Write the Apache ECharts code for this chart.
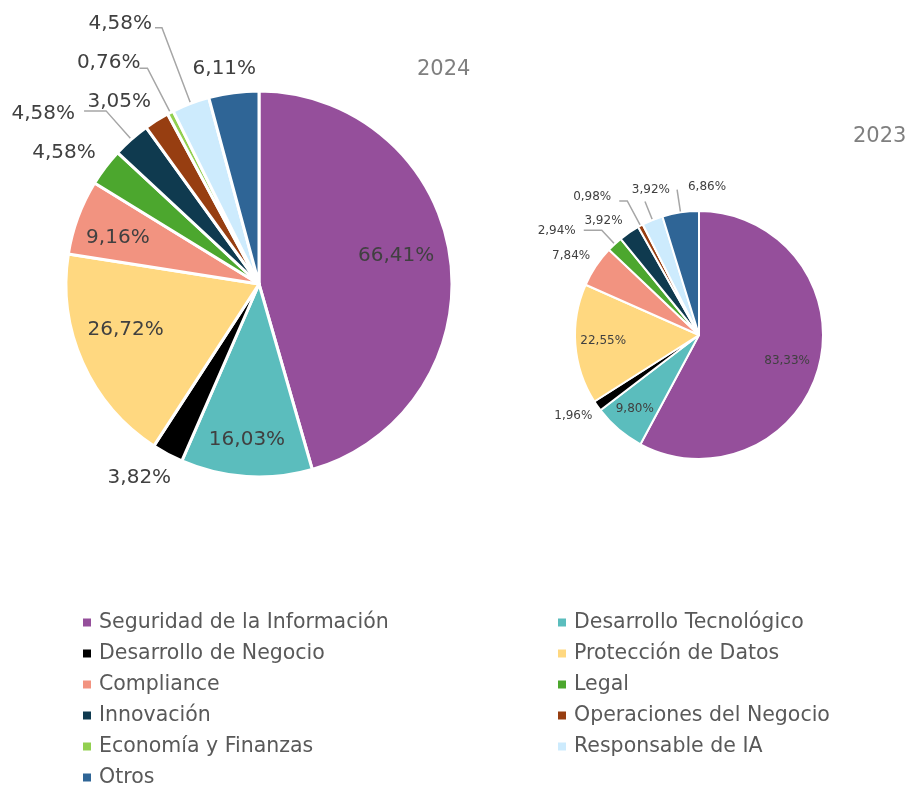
<!DOCTYPE html>
<html>
<head>
<meta charset="utf-8">
<script src="https://cdn.jsdelivr.net/npm/echarts@6/dist/echarts.min.js"></script>
<style>
  html, body { margin: 0; padding: 0; background: #fff; }
  #pieChart { width: 909px; height: 785px; }
</style>
</head>
<body>
<div id="pieChart"></div>
<script>
// categories and values (the labels show the values themselves)
const categories = ['Seguridad de la Información', 'Desarrollo Tecnológico', 'Desarrollo de Negocio',
  'Protección de Datos', 'Compliance', 'Legal', 'Innovación', 'Operaciones del Negocio',
  'Economía y Finanzas', 'Responsable de IA', 'Otros'];
const values2024 = [66.41, 16.03, 3.82, 26.72, 9.16, 4.58, 4.58, 3.05, 0.76, 4.58, 6.11];
const values2023 = [83.33, 9.80, 1.96, 22.55, 7.84, 2.94, 3.92, 0.98, 0, 3.92, 6.86];
const years = ['2024', '2023'];

const colors = ['#954F9B', '#5BBDBD', '#000000', '#FFD880', '#F29380', '#4CA72E',
  '#0F3A4F', '#973E11', '#92D050', '#CDEBFD', '#2F6596'];
const textColor = '#404040';
const legendColor = '#595959';
const lineColor = '#A6A6A6';
const fontFamily = '"DejaVu Sans", sans-serif';

// label placement, per slice index
// inside: {index: [dx, dy]}
// outside: {index: [show line, length, length2, dx, dy]}
const inside2024 = {0: [-14, -7], 1: [-2, 4], 3: [6, -16], 4: [2, 7]};
const outside2024 = {2: [false, 20, 0, 18, 6], 5: [false, 12, 0, 5, -7], 6: [true, 38, 22, -4, 3],
  7: [false, 22, 0, 11, 0], 8: [true, 50, 8, 6, -5], 9: [true, 81, 7, 2, -4], 10: [false, 12, 0, 29, -12]};
const inside2023 = {0: [-8, 2], 1: [0, -2], 3: [3, -2]};
const outside2023 = {2: [false, 6, 0, 5, 7], 4: [false, 8, 0, 6, -6], 5: [true, 19, 18, -3, 1],
  6: [false, 10, 0, 4, -3], 7: [true, 28, 8, -3, -4], 9: [true, 20, 0, 30, -12], 10: [true, 23, 0, 54, -3]};

function fmt(v) {
  return v.toFixed(2).replace('.', ',') + '%';
}

function nudge(table, idx) {
  return function (p) {
    const t = table[p.dataIndex];
    if (!t) return { hideOverlap: false };
    return { dx: t[idx], dy: t[idx + 1], hideOverlap: false, moveOverlap: null };
  };
}

function buildPies(values, center, radius, fontSize, border, inside, outside) {
  // slices with outside labels
  const main = {
    type: 'pie',
    center: center,
    radius: [0, radius],
    startAngle: 90,
    clockwise: true,
    avoidLabelOverlap: false,
    itemStyle: { borderColor: '#fff', borderWidth: border },
    label: {
      show: true, position: 'outside', color: textColor, fontSize: fontSize, fontFamily: fontFamily,
      formatter: p => fmt(p.value)
    },
    labelLine: { show: true, smooth: false, lineStyle: { color: lineColor, width: 1.5 } },
    labelLayout: nudge(outside, 3),
    emphasis: { disabled: true },
    data: categories.map((c, i) => {
      const o = outside[i];
      const item = { name: c, value: values[i], itemStyle: { color: colors[i] } };
      if (!o || values[i] === 0) {
        item.label = { show: false };
        item.labelLine = { show: false };
      } else {
        item.labelLine = { show: o[0], length: o[1], length2: o[2] };
      }
      return item;
    })
  };
  // transparent ring that only carries the inside labels
  const inner = {
    type: 'pie',
    center: center,
    radius: [radius * 0.55, radius],
    startAngle: 90,
    clockwise: true,
    silent: true,
    avoidLabelOverlap: false,
    itemStyle: { color: 'rgba(0,0,0,0)' },
    label: {
      show: true, position: 'inside', color: textColor, fontSize: fontSize, fontFamily: fontFamily,
      formatter: p => fmt(p.value)
    },
    labelLine: { show: false },
    labelLayout: nudge(inside, 0),
    data: categories.map((c, i) => ({
      name: c, value: values[i],
      label: { show: !!inside[i] }
    }))
  };
  return [main, inner];
}

let pieChart = echarts.init(document.getElementById('pieChart'));
pieChart.setOption({
  color: colors,
  animation: false,
  title: [
    { text: years[0], left: 412, top: 54, textStyle: { color: '#7F7F7F', fontSize: 21, fontWeight: 'normal', fontFamily: fontFamily } },
    { text: years[1], left: 848, top: 121, textStyle: { color: '#7F7F7F', fontSize: 21, fontWeight: 'normal', fontFamily: fontFamily } }
  ],
  legend: {
    left: 76,
    top: 602,
    width: 960,
    itemGap: 0,
    itemWidth: 10,
    itemHeight: 10,
    icon: 'rect',
    selectedMode: false,
    textStyle: { color: legendColor, fontSize: 20.5, fontFamily: fontFamily, width: 457, lineHeight: 31, padding: [0, 0, 0, 2] },
    data: categories
  },
  series: buildPies(values2024, [259, 284], 193, 20, 3, inside2024, outside2024)
    .concat(buildPies(values2023, [699, 335], 124, 12, 2, inside2023, outside2023))
});
</script>
</body>
</html>
